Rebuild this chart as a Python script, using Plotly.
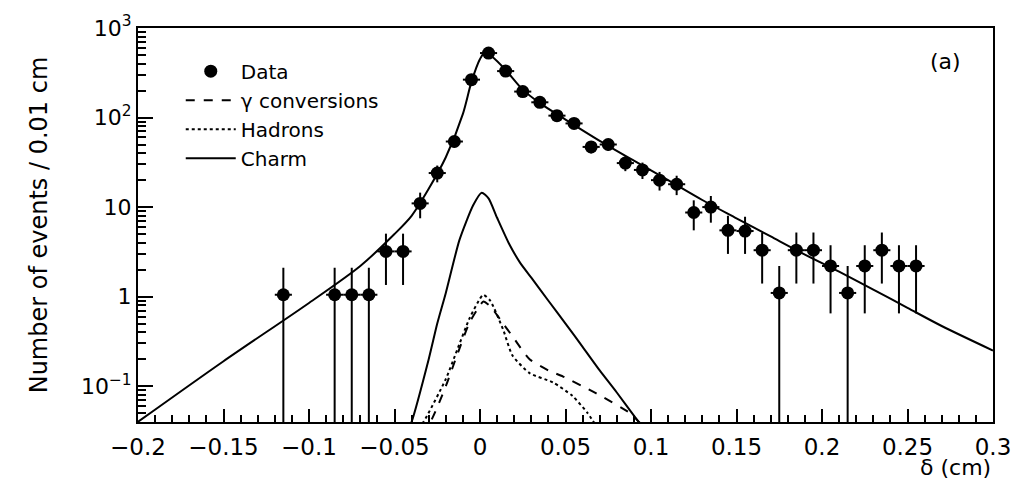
import plotly.graph_objects as go

# ---------------- data ----------------
data_x = [-0.115, -0.085, -0.075, -0.065, -0.055, -0.045, -0.035, -0.025, -0.015, -0.005,
          0.005, 0.015, 0.025, 0.035, 0.045, 0.055, 0.065, 0.075, 0.085, 0.095,
          0.105, 0.115, 0.125, 0.135, 0.145, 0.155, 0.165, 0.175, 0.185, 0.195,
          0.205, 0.215, 0.225, 0.235, 0.245, 0.255]
data_y = [1.05, 1.05, 1.05, 1.05, 3.2, 3.2, 11, 24, 54, 265,
          525, 330, 195, 148, 105, 86, 47, 50, 31, 26,
          20, 18, 8.7, 10, 5.5, 5.4, 3.3, 1.1, 3.3, 3.3,
          2.2, 1.1, 2.2, 3.3, 2.2, 2.2]
data_err = [1.05, 1.05, 1.05, 1.05, 1.85, 1.85, 3.5, 5.1, 7.7, 17,
            24, 19, 14.6, 12.7, 10.7, 9.7, 7.2, 7.4, 5.8, 5.4,
            4.7, 4.4, 3.2, 3.3, 2.5, 2.4, 1.9, 1.1, 1.9, 1.9,
            1.55, 1.1, 1.55, 1.9, 1.55, 1.55]
bin_half_width = [0.005] * len(data_x)

total_x = [-0.2, -0.15, -0.1, -0.07, -0.05, -0.04, -0.03, -0.02, -0.01, -0.005,
           0.0, 0.003, 0.007, 0.015, 0.025, 0.035, 0.05, 0.07, 0.09, 0.11,
           0.13, 0.15, 0.17, 0.19, 0.21, 0.23, 0.25, 0.27, 0.3]
total_y = [0.04, 0.19, 0.85, 2.2, 5.0, 8.0, 16, 36, 110, 250,
           450, 540, 480, 340, 205, 145, 95, 55, 33, 20,
           12, 7.5, 4.7, 2.95, 1.9, 1.2, 0.75, 0.47, 0.25]

charm_x = [-0.045, -0.04, -0.03, -0.025, -0.02, -0.012, -0.004, 0.001, 0.005, 0.01,
           0.017, 0.0234, 0.03, 0.04, 0.05, 0.06, 0.07, 0.08, 0.09, 0.095]
charm_y = [0.025, 0.04, 0.2, 0.5, 1.1, 4.3, 10.5, 14.5, 12.5, 7.6,
           3.9, 2.4, 1.63, 0.9, 0.5, 0.275, 0.15, 0.085, 0.047, 0.035]

gamma_x = [-0.035, -0.029, -0.02, -0.0135, -0.006, 0.0, 0.002, 0.006, 0.012, 0.019,
           0.029, 0.04, 0.0486, 0.068, 0.0877, 0.094]
gamma_y = [0.03, 0.04, 0.1, 0.22, 0.52, 0.8, 0.88, 0.78, 0.55, 0.36,
           0.2, 0.15, 0.128, 0.083, 0.05, 0.038]

hadron_x = [-0.038, -0.033, -0.02, -0.0135, -0.006, 0.0, 0.002, 0.006, 0.0135, 0.019,
            0.029, 0.0427, 0.054, 0.0626, 0.068]
hadron_y = [0.03, 0.04, 0.12, 0.25, 0.58, 0.95, 1.05, 0.9, 0.43, 0.22,
            0.14, 0.11, 0.078, 0.051, 0.036]

x_tickvals = [-0.2, -0.15, -0.1, -0.05, 0, 0.05, 0.1, 0.15, 0.2, 0.25, 0.3]
x_ticktext = ["\u22120.2", "\u22120.15", "\u22120.1", "\u22120.05", "0", "0.05", "0.1",
              "0.15", "0.2", "0.25", "0.3"]
y_tickvals = [0.1, 1, 10, 100, 1000]
y_ticktext = ["10<sup>\u22121</sup>", "1", "10", "10<sup>2</sup>", "10<sup>3</sup>"]

FONT = "DejaVu Sans"

fig = go.Figure()

fig.add_trace(go.Scatter(x=total_x, y=total_y, mode="lines",
                         line=dict(color="black", width=2, shape="spline", smoothing=0.8),
                         showlegend=False, hoverinfo="skip"))
fig.add_trace(go.Scatter(x=charm_x, y=charm_y, mode="lines", name="Charm",
                         line=dict(color="black", width=2, shape="spline", smoothing=0.6),
                         legendrank=4))
fig.add_trace(go.Scatter(x=gamma_x, y=gamma_y, mode="lines", name="\u03b3 conversions",
                         line=dict(color="black", width=2, dash="dash", shape="spline", smoothing=0.6),
                         legendrank=2))
fig.add_trace(go.Scatter(x=hadron_x, y=hadron_y, mode="lines", name="Hadrons",
                         line=dict(color="black", width=2, dash="dot", shape="spline", smoothing=0.6),
                         legendrank=3))
fig.add_trace(go.Scatter(x=data_x, y=data_y, mode="markers", name="Data",
                         marker=dict(color="black", size=13, symbol="circle"),
                         error_y=dict(type="data", array=data_err, color="black", thickness=2, width=0),
                         error_x=dict(type="data", array=bin_half_width, color="black", thickness=2, width=0),
                         legendrank=1))

fig.update_layout(
    width=1030, height=486,
    margin=dict(l=138, r=37, t=17, b=64),
    paper_bgcolor="white", plot_bgcolor="white",
    font=dict(family=FONT, color="black", size=20),
    legend=dict(x=0.05, y=0.94, xanchor="left", yanchor="top",
                bgcolor="rgba(0,0,0,0)", borderwidth=0,
                font=dict(family=FONT, size=20, color="black"),
                itemwidth=50, tracegroupgap=0),
    xaxis=dict(range=[-0.2, 0.3], tickmode="array", tickvals=x_tickvals, ticktext=x_ticktext,
               ticks="inside", ticklen=13, tickwidth=1.5, tickcolor="black",
               showline=True, linecolor="black", linewidth=2, mirror=True,
               showgrid=False, zeroline=False, ticklabelstandoff=3,
               tickfont=dict(family=FONT, size=23),
               minor=dict(ticks="inside", ticklen=7, tickwidth=1.5, tickcolor="black",
                          dtick=0.01, showgrid=False)),
    yaxis=dict(type="log", range=[-1.4, 3], tickmode="array", tickvals=y_tickvals, ticktext=y_ticktext,
               ticks="inside", ticklen=15, tickwidth=1.5, tickcolor="black",
               showline=True, linecolor="black", linewidth=2, mirror=True,
               showgrid=False, zeroline=False, ticklabeloverflow="allow",
               tickfont=dict(family=FONT, size=22),
               title=dict(text="Number of events / 0.01 cm", font=dict(family=FONT, size=24), standoff=26),
               minor=dict(ticks="inside", ticklen=8, tickwidth=1.5, tickcolor="black", showgrid=False,
                          tickvals=[m * 10 ** e for e in (-2, -1, 0, 1, 2) for m in range(2, 10)])),
    annotations=[
        dict(text="\u03b4 (cm)", xref="paper", yref="paper", x=1.0, y=-0.078,
             xanchor="right", yanchor="top", showarrow=False, font=dict(family=FONT, size=22)),
        dict(text="(a)", xref="paper", yref="paper", x=0.945, y=0.915,
             xanchor="center", yanchor="middle", showarrow=False, font=dict(family=FONT, size=22)),
    ],
)

fig.write_html("out.html")
